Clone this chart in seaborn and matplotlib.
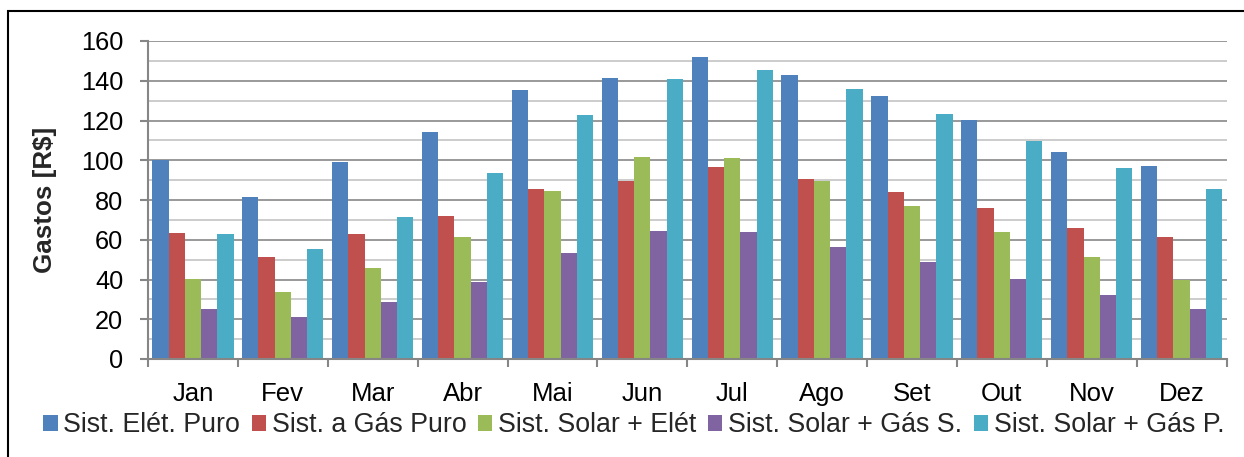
import numpy as np
import pandas as pd
import seaborn as sns
import matplotlib
matplotlib.use("Agg")
import matplotlib.pyplot as plt
from matplotlib.patches import Rectangle
from matplotlib.ticker import MultipleLocator, FixedLocator

months = ["Jan", "Fev", "Mar", "Abr", "Mai", "Jun", "Jul", "Ago", "Set", "Out", "Nov", "Dez"]
series_names = ["Sist. Elét. Puro", "Sist. a Gás Puro", "Sist. Solar + Elét",
                "Sist. Solar + Gás S.", "Sist. Solar + Gás P."]
eletrico_puro = [100.0, 81.4, 99.0, 114.0, 135.5, 141.5, 152.1, 142.9, 132.5, 120.3, 104.3, 96.9]
gas_puro = [63.2, 51.5, 62.7, 72.1, 85.7, 89.6, 96.4, 90.4, 83.9, 75.8, 65.9, 61.2]
solar_eletrico = [40.1, 33.7, 45.8, 61.4, 84.4, 101.5, 101.0, 89.4, 77.1, 63.7, 51.2, 39.7]
solar_gas_s = [25.3, 21.3, 28.8, 38.9, 53.3, 64.2, 63.7, 56.4, 48.8, 40.3, 32.2, 25.2]
solar_gas_p = [62.9, 55.2, 71.3, 93.7, 122.8, 140.7, 145.3, 135.7, 123.1, 109.7, 96.3, 85.5]
colors = ["#4F81BD", "#C0504D", "#9BBB59", "#8064A2", "#4BACC6"]

all_series = [eletrico_puro, gas_puro, solar_eletrico, solar_gas_s, solar_gas_p]
rows = []
for name, vals in zip(series_names, all_series):
    for m, v in zip(months, vals):
        rows.append({"Mês": m, "Sistema": name, "Gastos": v})
df = pd.DataFrame(rows)

sns.set_theme(style="white")
plt.rcParams["font.family"] = ["Liberation Sans", "DejaVu Sans"]

fig = plt.figure(figsize=(12.44, 4.57), dpi=100)
ax = fig.add_axes([148 / 1244, 1 - 359 / 457, (1226.5 - 148) / 1244, (359 - 41) / 457])

sns.barplot(data=df, x="Mês", y="Gastos", hue="Sistema", order=months,
            hue_order=series_names, palette=colors, width=0.905, gap=0,
            saturation=1, edgecolor="none", linewidth=0, errorbar=None,
            legend=True, ax=ax)

ax.set_ylim(0, 160)
ax.set_xlim(-0.5, 11.5)
ax.yaxis.set_major_locator(MultipleLocator(20))
ax.yaxis.set_minor_locator(MultipleLocator(10))
ax.grid(which="major", axis="y", color="#878787", linewidth=1.2, zorder=0)
ax.grid(which="minor", axis="y", color="#C4C4C4", linewidth=1.2, zorder=0)
ax.grid(which="major", axis="x", visible=False)
ax.set_axisbelow(True)

for s in ["top", "right"]:
    ax.spines[s].set_visible(False)
for s in ["left", "bottom"]:
    ax.spines[s].set_color("#868686")
    ax.spines[s].set_linewidth(1.5)

ax.xaxis.set_minor_locator(FixedLocator(np.arange(-0.5, 12, 1)))
ax.tick_params(axis="x", which="major", length=0, pad=16.5, labelsize=18.5, colors="black")
ax.tick_params(axis="x", which="minor", length=5.5, width=1.5, color="#868686", direction="out", bottom=True)
ax.tick_params(axis="y", which="major", length=5.8, width=1.5, color="#868686", pad=12,
               labelsize=18.3, labelcolor="black", left=True)
ax.tick_params(axis="y", which="minor", length=0)

ax.set_xlabel("")
ax.set_ylabel("Gastos [R$]", fontsize=18.7, fontweight="bold")
ax.yaxis.set_label_coords(-0.0844, 0.5)

handles, labels = ax.get_legend_handles_labels()
ax.get_legend().remove()
fig.legend(handles, labels, loc="center", bbox_to_anchor=(0.5095, 0.07), ncol=5,
           frameon=False, fontsize=19.3, handlelength=0.54, handleheight=0.54,
           handletextpad=0.22, columnspacing=0.42, borderaxespad=0, borderpad=0)

fig.add_artist(Rectangle((8 / 1244, -0.2), 1.2, 1.2 + (1 - 11 / 457) - 1.0,
                         transform=fig.transFigure, fill=False, edgecolor="black",
                         linewidth=1.5))

fig.savefig("out.png", dpi=100)
